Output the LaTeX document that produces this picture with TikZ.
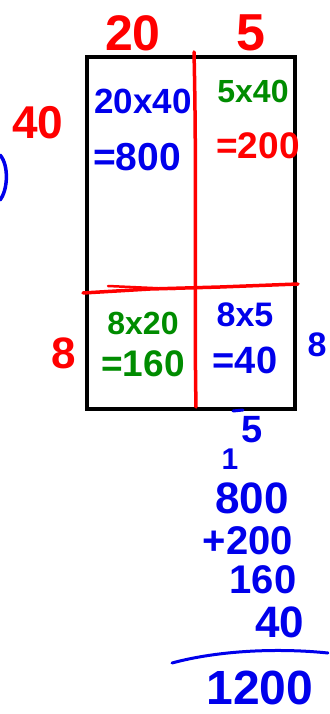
\documentclass[tikz,border=0pt]{standalone}
\usepackage{fontspec}
\setmainfont{Liberation Sans}
\usetikzlibrary{math}
\definecolor{myred}{RGB}{255,0,0}
\definecolor{myblue}{RGB}{0,0,235}
\definecolor{mygreen}{RGB}{0,140,0}

\begin{document}
\begin{tikzpicture}[x=1pt,y=-1pt,
  pen/.style={inner sep=0pt, font=\fontsize{#1}{#1}\selectfont\bfseries},
  ink/.style={line width=3.5, line cap=round, line join=round}]
\tikzmath{
\L=87; \R=295; \T=57; \B=409;
}
\useasboundingbox (0,0) rectangle (329,714);
\clip (0,0) rectangle (329,714);

\draw[line width=4.5] (\L,\T) rectangle (\R,\B);
\draw[ink, myred] (194,52) .. controls (197,180) and (194,300) .. (196,407);
\draw[ink, myred] (83,293) -- (150,289) -- (220,287) -- (298,284);
\draw[ink, myred, line width=2.5] (108,286) -- (175,289);

\node[pen=50, myred] (top20) at (133,33) {20};
\node[pen=52, myred] (top5) at (251,33) {5};
\node[pen=46, myred] (side40) at (38,123) {40};
\node[pen=44, myred] (side8) at (64,353) {8};
\node[pen=34, myblue] (rside8) at (317,345) {8};
\draw[ink, myblue] (0,155) .. controls (9,165) and (8,190) .. (0,200);

\node[pen=35, myblue] (aa) at (143,101) {20x40};
\node[pen=39, myblue] (aares) at (137,157) {=800};
\node[pen=32, mygreen] (ab) at (253,91) {5x40};
\node[pen=37, myred] (abres) at (258,146) {=200};
\node[pen=32, mygreen] (ba) at (143,323) {8x20};
\node[pen=37, mygreen] (bares) at (143,364) {=160};
\node[pen=34, myblue] (bb) at (245,315) {8x5};
\node[pen=38, myblue] (bbres) at (245,360) {=40};

\draw[ink, myblue, line width=3] (233,411) -- (243,410);
\node[pen=38, myblue] (carry5) at (252,430) {5};
\node[pen=30, myblue] (carry1) at (230,459) {1};
\node[pen=44, myblue] (s800) at (252,498) {800};
\node[pen=40, myblue] (s200) at (248,541) {+200};
\node[pen=40, myblue] (s160) at (263,580) {160};
\node[pen=44, myblue] (s40) at (280,622) {40};
\draw[ink, myblue, line width=3] (172,663) .. controls (220,650) and (280,648) .. (328,653);
\node[pen=48, myblue] (total) at (260,688) {1200};

\end{tikzpicture}
\end{document}
